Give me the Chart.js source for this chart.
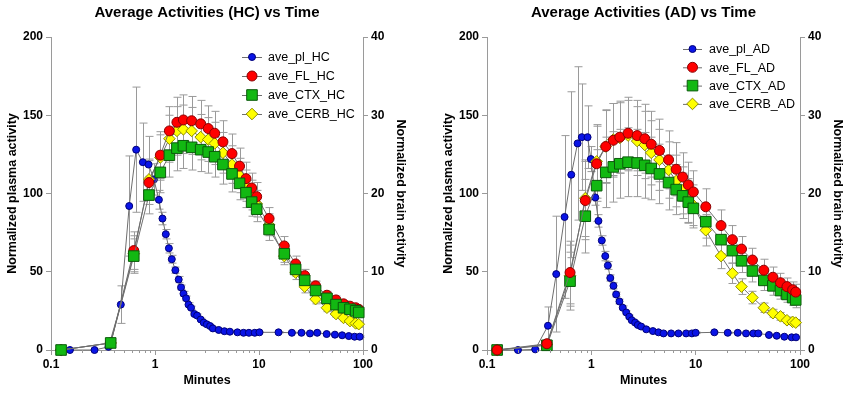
<!DOCTYPE html>
<html lang="en">
<head>
<meta charset="UTF-8" />
<title>Average Activities vs Time</title>
<script src="https://cdn.jsdelivr.net/npm/chart.js"></script>
<style>
  body { margin: 0; background: #fff; }
  .row { display: flex; width: 850px; height: 393px; }
  canvas { display: block; }
</style>
</head>
<body>
<div class="row">
  <canvas id="hcChart" width="425" height="393"></canvas>
  <canvas id="adChart" width="425" height="393"></canvas>
</div>

<script>
  // ---- axis ticks ----
  const xMajorTicks = [0.1, 1, 10, 100];
  const xTickLabels = ['0.1', '1', '10', '100'];
  const xMinorTicks = [0.2, 0.3, 0.4, 0.5, 0.6, 0.7, 0.8, 0.9,
                       2, 3, 4, 5, 6, 7, 8, 9,
                       20, 30, 40, 50, 60, 70, 80, 90];
  const plasmaTicks = [0, 50, 100, 150, 200];
  const brainTicks = [0, 10, 20, 30, 40];

  // ---- brain frame times (minutes), shared by both groups ----
  const brainTimes = [0.125, 0.375, 0.625, 0.875, 1.125, 1.375, 1.625, 1.875, 2.25, 2.75,
                      3.25, 3.75, 4.5, 5.5, 6.5, 7.5, 8.5, 9.5, 12.5, 17.5,
                      22.5, 27.5, 35, 45, 55, 65, 75, 85, 91];

  // ---- HC ----
  const plTimesHC = [0.152, 0.262, 0.357, 0.469, 0.565, 0.659, 0.764, 0.867, 0.976, 1.09,
                     1.18, 1.27, 1.36, 1.45, 1.57, 1.69, 1.78, 1.88, 1.99, 2.10,
                     2.22, 2.39, 2.54, 2.75, 2.94, 3.15, 3.39, 3.6, 4.1, 4.65,
                     5.25, 6.2, 7.1, 8.0, 9.1, 10.1, 15.4, 20.7, 25.6, 30.9,
                     36.3, 44.7, 53.7, 63, 73, 83, 93];
  const plHC = [0, 0, 2, 29, 92, 128, 120, 118.5, 109, 96,
                84, 74, 65, 58, 51, 45, 40, 36, 33, 29,
                27, 23, 22, 19.5, 17.5, 16.4, 15.3, 13.8, 12.8, 12,
                11.7, 11.3, 11, 11, 11, 11.3, 11.3, 11, 11, 10.6,
                11, 10.2, 9.8, 9.4, 8.9, 8.5, 8.5];
  const plErrHC = [0, 0, 1, 12, 32, 40, 25, 18, 10, 6,
                   4, 3, 3, 2.5, 2, 2, 1.5, 1.5, 1.5, 1.2,
                   1, 1, 1, 0.8, 0.8, 0.8, 0.8, 0.8, 0.6, 0.6,
                   0.6, 0.5, 0.5, 0.5, 0.5, 0.5, 0.5, 0.5, 0.5, 0.5,
                   0.5, 0.5, 0.5, 0.5, 0.5, 0.5, 0.5];
  const flHC = [0, 0.9, 12.7, 21.4, 24.9, 28.0, 29.1, 29.4, 29.3, 28.9,
                28.3, 27.7, 26.6, 25.1, 23.5, 21.9, 20.7, 19.6, 16.8, 13.3,
                11.0, 9.5, 8.2, 7.0, 6.4, 5.9, 5.6, 5.4, 5.2];
  const flErrHC = [0, 0.3, 2.4, 2.8, 3.0, 3.1, 3.2, 3.2, 3.1, 3.0,
                   2.9, 2.8, 2.7, 2.5, 2.3, 2.1, 1.9, 1.8, 1.4, 1.2,
                   1.0, 0.8, 0.6, 0.5, 0.5, 0.4, 0.4, 0.4, 0.4];
  const ctxHC = [0, 0.9, 12.0, 19.8, 22.7, 24.9, 25.8, 26.1, 25.9, 25.6,
                 25.3, 24.7, 23.7, 22.5, 21.3, 20.1, 18.9, 18.0, 15.4, 12.3,
                 10.3, 8.9, 7.6, 6.6, 5.8, 5.4, 5.2, 5.0, 4.8];
  const ctxErrHC = [0, 0.3, 2.2, 2.4, 2.6, 2.8, 2.9, 2.9, 2.9, 2.8,
                    2.7, 2.6, 2.5, 2.3, 2.1, 1.9, 1.8, 1.6, 1.4, 1.1,
                    0.9, 0.8, 0.6, 0.5, 0.5, 0.4, 0.4, 0.4, 0.4];
  const cerbHC = [0, 0.9, 12.3, 21.8, 24.6, 27.0, 28.0, 28.2, 28.0, 27.2,
                  26.9, 26.4, 25.2, 23.7, 22.3, 21.0, 19.8, 18.7, 16.0, 12.0,
                  9.9, 8.1, 6.5, 5.4, 4.6, 4.1, 3.7, 3.4, 3.3];
  const cerbErrHC = [0, 0.3, 2.3, 2.6, 2.9, 3.0, 3.1, 3.1, 3.0, 2.9,
                     2.8, 2.7, 2.6, 2.4, 2.2, 2.0, 1.9, 1.7, 1.4, 1.1,
                     0.9, 0.8, 0.6, 0.5, 0.4, 0.4, 0.4, 0.4, 0.4];

  // ---- AD ----
  const plTimesAD = [0.12, 0.198, 0.29, 0.384, 0.461, 0.554, 0.642, 0.738, 0.81, 0.92,
                     0.99, 1.09, 1.17, 1.26, 1.36, 1.44, 1.52, 1.63, 1.73, 1.86,
                     2.0, 2.16, 2.31, 2.44, 2.63, 2.79, 3.0, 3.36, 3.89, 4.4,
                     4.92, 5.82, 6.84, 8.1, 9.2, 10, 15.1, 20.3, 25.3, 30.4,
                     35.7, 39.8, 50.4, 59.8, 70.8, 83.2, 91.6];
  const plAD = [0, 0, 0.4, 15.5, 48.5, 85, 112, 132, 136, 136,
                122, 97.5, 82.5, 70, 60, 54, 46, 41, 35.5, 31,
                27, 24, 21.3, 19, 17.5, 16, 15, 13.2, 12.1, 11.3,
                10.6, 10.6, 10.6, 10.6, 10.6, 11, 11.3, 11, 11, 10.6,
                10.6, 10.6, 9.6, 9.1, 8.5, 8.1, 8.1];
  const plErrAD = [0, 0, 0.5, 12, 37, 52, 53, 49, 34, 20,
                   8, 5, 4, 3, 3, 2.5, 2, 2, 1.5, 1.5,
                   1.2, 1, 1, 1, 0.8, 0.8, 0.8, 0.8, 0.6, 0.6,
                   0.6, 0.5, 0.5, 0.5, 0.5, 0.5, 0.5, 0.5, 0.5, 0.5,
                   0.5, 0.5, 0.5, 0.5, 0.5, 0.5, 0.5];
  const flAD = [0, 0.8, 9.9, 19.1, 23.8, 26.0, 26.8, 27.2, 27.7, 27.4,
                27.0, 26.3, 25.5, 24.3, 23.1, 22.1, 21.1, 20.2, 18.3, 15.9,
                14.1, 12.9, 11.5, 10.2, 9.3, 8.6, 8.1, 7.7, 7.4];
  const flErrAD = [0, 0.5, 4.0, 5.0, 4.8, 4.7, 4.7, 4.6, 4.6, 4.5,
                   4.4, 4.2, 4.0, 3.7, 3.4, 3.1, 2.9, 2.7, 2.3, 2.0,
                   1.8, 1.6, 1.5, 1.4, 1.3, 1.2, 1.1, 1.0, 1.0];
  const ctxAD = [0, 0.6, 8.8, 17.1, 21.0, 22.7, 23.4, 23.8, 24.0, 23.9,
                 23.6, 23.2, 22.5, 21.4, 20.5, 19.7, 18.9, 18.1, 16.4, 14.1,
                 12.7, 11.4, 10.1, 8.9, 8.2, 7.6, 7.1, 6.7, 6.4];
  const ctxErrAD = [0, 0.5, 3.7, 4.7, 4.6, 4.5, 4.5, 4.4, 4.4, 4.3,
                    4.2, 4.0, 3.8, 3.5, 3.2, 2.9, 2.7, 2.5, 2.1, 1.8,
                    1.6, 1.5, 1.4, 1.3, 1.2, 1.1, 1.0, 1.0, 1.0];
  const cerbAD = [0, 0.7, 9.5, 19.4, 24.1, 26.0, 26.9, 27.1, 27.4, 26.7,
                  26.2, 25.2, 24.3, 23.0, 21.6, 20.4, 19.1, 18.5, 15.3, 12.0,
                  9.8, 8.1, 6.7, 5.4, 4.7, 4.3, 3.8, 3.6, 3.5];
  const cerbErrAD = [0, 0.5, 3.9, 4.9, 4.7, 4.6, 4.6, 4.5, 4.5, 4.4,
                     4.3, 4.1, 3.9, 3.6, 3.3, 3.0, 2.8, 2.6, 2.0, 1.6,
                     1.3, 1.0, 0.8, 0.6, 0.5, 0.5, 0.4, 0.4, 0.4];

  Chart.defaults.font.family = '"Liberation Sans", Arial, sans-serif';
  Chart.defaults.color = '#000';

  const axisGrey = '#9a9a9a';
  const lineGrey = '#6e6e6e';

  function toPoints(xs, ys) {
    return xs.map((x, i) => ({ x, y: ys[i] }));
  }

  function drawMarker(ctx, style, x, y, r) {
    ctx.beginPath();
    if (style === 'rect') {
      const s = r * Math.SQRT1_2;
      ctx.rect(x - s, y - s, 2 * s, 2 * s);
    } else if (style === 'rectRot') {
      ctx.moveTo(x - r, y);
      ctx.lineTo(x, y - r);
      ctx.lineTo(x + r, y);
      ctx.lineTo(x, y + r);
      ctx.closePath();
    } else {
      ctx.arc(x, y, r, 0, Math.PI * 2);
    }
    ctx.fill();
    ctx.stroke();
  }

  // vertical SD bars under the markers
  const errorBars = {
    id: 'errorBars',
    beforeDatasetsDraw(chart) {
      const ctx = chart.ctx;
      ctx.save();
      ctx.strokeStyle = axisGrey;
      ctx.lineWidth = 1;
      chart.data.datasets.forEach((ds, i) => {
        if (!ds.errors) return;
        const ys = chart.scales[ds.yAxisID];
        chart.getDatasetMeta(i).data.forEach((pt, j) => {
          const e = ds.errors[j];
          if (!e) return;
          const v = ds.data[j].y;
          const top = ys.getPixelForValue(v + e);
          const bot = ys.getPixelForValue(Math.max(v - e, 0));
          const x = Math.round(pt.x) + 0.5;
          ctx.beginPath();
          ctx.moveTo(x, top); ctx.lineTo(x, bot);
          ctx.moveTo(x - 4, top); ctx.lineTo(x + 4, top);
          ctx.moveTo(x - 4, bot); ctx.lineTo(x + 4, bot);
          ctx.stroke();
        });
      });
      ctx.restore();
    }
  };

  // short unlabelled ticks between the decades
  const minorTicks = {
    id: 'minorTicks',
    afterDraw(chart) {
      const xs = chart.scales.x, ctx = chart.ctx;
      ctx.save();
      ctx.strokeStyle = axisGrey;
      ctx.lineWidth = 1;
      xMinorTicks.forEach(v => {
        const px = Math.round(xs.getPixelForValue(v)) + 0.5;
        ctx.beginPath();
        ctx.moveTo(px, xs.top);
        ctx.lineTo(px, xs.top + 3);
        ctx.stroke();
      });
      ctx.restore();
    }
  };

  // legend drawn inside the plot area, top right
  const insetLegend = {
    id: 'insetLegend',
    afterDatasetsDraw(chart, args, opts) {
      const ctx = chart.ctx;
      ctx.save();
      chart.data.datasets.forEach((ds, i) => {
        const y = opts.y + i * opts.gap;
        ctx.strokeStyle = ds.borderColor;
        ctx.lineWidth = 1;
        ctx.beginPath();
        ctx.moveTo(opts.x, y + 0.5);
        ctx.lineTo(opts.x + opts.lineLen, y + 0.5);
        ctx.stroke();
        ctx.fillStyle = ds.pointBackgroundColor;
        ctx.strokeStyle = ds.pointBorderColor;
        drawMarker(ctx, ds.pointStyle, opts.x + opts.lineLen / 2, y, ds.pointRadius);
        ctx.fillStyle = '#000';
        ctx.font = '12.5px "Liberation Sans", Arial, sans-serif';
        ctx.textBaseline = 'middle';
        ctx.fillText(ds.label, opts.textX, y + 1);
      });
      ctx.restore();
    }
  };

  function series(label, pts, errs, axis, style, fill, edge, radius, order) {
    return {
      label, data: pts, errors: errs, yAxisID: axis, order,
      borderColor: lineGrey, borderWidth: 1, tension: 0, clip: false,
      pointStyle: style, pointRadius: radius, pointHoverRadius: radius,
      pointBackgroundColor: fill, pointBorderColor: edge, pointBorderWidth: 1
    };
  }

  function buildChart(id, cfg) {
    return new Chart(document.getElementById(id), {
      type: 'line',
      data: {
        datasets: [
          series(cfg.names[0], toPoints(cfg.plTimes, cfg.pl), cfg.plErr, 'y', 'circle', '#0a14e6', '#00007a', 3.5, 3),
          series(cfg.names[1], toPoints(brainTimes, cfg.fl), cfg.flErr, 'y1', 'circle', '#ff0000', '#8a0000', 5, cfg.flOrder),
          series(cfg.names[2], toPoints(brainTimes, cfg.ctx), cfg.ctxErr, 'y1', 'rect', '#12b812', '#0a5a0a', 7.5, cfg.ctxOrder),
          series(cfg.names[3], toPoints(brainTimes, cfg.cerb), cfg.cerbErr, 'y1', 'rectRot', '#ffff00', '#8c8c00', 5.8, 2)
        ]
      },
      options: {
        responsive: false,
        animation: false,
        layout: { padding: 0 },
        plugins: {
          legend: { display: false },
          tooltip: { enabled: false },
          title: {
            display: true,
            text: cfg.title,
            fullSize: false,
            font: { size: 15, weight: 'bold' },
            color: '#000',
            padding: { top: 4, bottom: 15 }
          },
          insetLegend: cfg.legend
        },
        scales: {
          x: {
            type: 'logarithmic',
            min: 0.1,
            max: 100,
            afterBuildTicks: s => { s.ticks = xMajorTicks.map(v => ({ value: v })); },
            afterFit: s => { s.height = 43; },
            ticks: {
              autoSkip: false,
              maxRotation: 0,
              padding: 2,
              font: { size: 12, weight: 'bold' },
              color: '#000',
              callback: v => xTickLabels[xMajorTicks.indexOf(v)]
            },
            grid: { drawOnChartArea: false, tickLength: 5, color: axisGrey },
            border: { color: axisGrey },
            title: {
              display: true, text: 'Minutes', color: '#000',
              font: { size: 12.5, weight: 'bold' }, padding: { top: 2, bottom: 4.5 }
            }
          },
          y: {
            position: 'left',
            min: 0,
            max: 200,
            afterBuildTicks: s => { s.ticks = plasmaTicks.map(v => ({ value: v })); },
            afterFit: s => { s.width = cfg.leftWidth; },
            ticks: { padding: 3, font: { size: 12, weight: 'bold' }, color: '#000' },
            grid: { drawOnChartArea: false, tickLength: 5, color: axisGrey },
            border: { color: axisGrey },
            title: {
              display: true, text: 'Normalized plasma activity', color: '#000',
              font: { size: 12.5, weight: 'bold' }, padding: { top: cfg.leftTitlePad, bottom: 0 }
            }
          },
          y1: {
            position: 'right',
            min: 0,
            max: 40,
            afterBuildTicks: s => { s.ticks = brainTicks.map(v => ({ value: v })); },
            afterFit: s => { s.width = cfg.rightWidth; },
            ticks: { padding: 3, font: { size: 12, weight: 'bold' }, color: '#000' },
            grid: { drawOnChartArea: false, tickLength: 5, color: axisGrey },
            border: { color: axisGrey },
            title: {
              display: true, text: 'Normalized brain activity', color: '#000',
              font: { size: 12.5, weight: 'bold' }, padding: { top: cfg.rightTitlePad, bottom: 0 }
            }
          }
        }
      },
      plugins: [errorBars, minorTicks, insetLegend]
    });
  }

  buildChart('hcChart', {
    title: 'Average Activities (HC) vs Time',
    names: ['ave_pl_HC', 'ave_FL_HC', 'ave_CTX_HC', 'ave_CERB_HC'],
    plTimes: plTimesHC, pl: plHC, plErr: plErrHC,
    fl: flHC, flErr: flErrHC, ctx: ctxHC, ctxErr: ctxErrHC, cerb: cerbHC, cerbErr: cerbErrHC,
    flOrder: 1, ctxOrder: 0,
    leftWidth: 51, rightWidth: 62, leftTitlePad: 5.5, rightTitlePad: 17.5,
    legend: { x: 242, y: 57, gap: 19, lineLen: 20, textX: 268 }
  });

  buildChart('adChart', {
    title: 'Average Activities (AD) vs Time',
    names: ['ave_pl_AD', 'ave_FL_AD', 'ave_CTX_AD', 'ave_CERB_AD'],
    plTimes: plTimesAD, pl: plAD, plErr: plErrAD,
    fl: flAD, flErr: flErrAD, ctx: ctxAD, ctxErr: ctxErrAD, cerb: cerbAD, cerbErr: cerbErrAD,
    flOrder: 0, ctxOrder: 1,
    leftWidth: 62, rightWidth: 50, leftTitlePad: 16.5, rightTitlePad: 5.2,
    legend: { x: 258, y: 49, gap: 18.3, lineLen: 19, textX: 284 }
  });
</script>
</body>
</html>
